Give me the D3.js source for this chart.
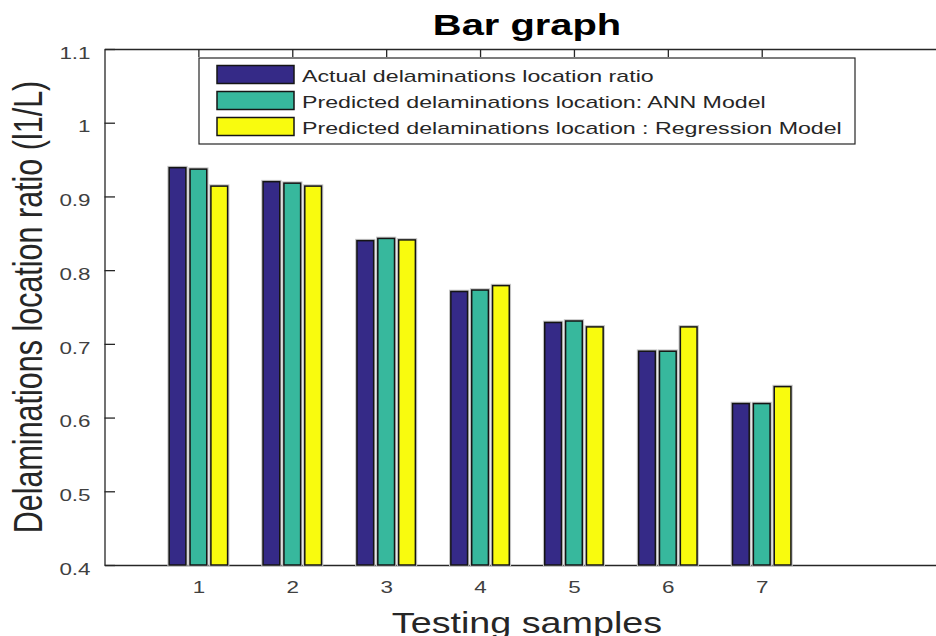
<!DOCTYPE html>
<html lang="en">
<head>
  <meta charset="UTF-8">
  <title>Bar graph</title>
  <script src="https://d3js.org/d3.v7.min.js"></script>
  <style>
    body, html {
      margin: 0;
      background: #fff;
    }
    svg text {
      font-family: "Liberation Sans", Arial, Helvetica, sans-serif;
    }
    .axis path, .axis line {
      stroke: #262626;
      stroke-width: 1.3;
    }
    .axis text {
      fill: #404040;
      font-size: 16px;
    }
  </style>
</head>
<body>
<svg id="chart" width="936" height="636"></svg>

<script>
  // values
  const samples = [1, 2, 3, 4, 5, 6, 7];
  const actualRatio = [0.939, 0.920, 0.840, 0.771, 0.729, 0.690, 0.619];
  const annRatio = [0.937, 0.918, 0.843, 0.773, 0.731, 0.690, 0.619];
  const regressionRatio = [0.914, 0.914, 0.841, 0.779, 0.723, 0.723, 0.642];
  const seriesNames = [
    "Actual delaminations location ratio",
    "Predicted delaminations location: ANN Model",
    "Predicted delaminations location : Regression Model"
  ];
  const seriesColors = ["#352a87", "#37b89d", "#f9fb0e"];
  const yTicks = [0.4, 0.5, 0.6, 0.7, 0.8, 0.9, 1, 1.1];

  const svg = d3.select("#chart");

  // plot box (the original figure is stretched sideways, hence sx factors on text)
  const plotLeft = 104.5, plotTop = 49, plotBottom = 565, plotRight = 949.5;

  const x = d3.scaleLinear().domain([0, 9]).range([plotLeft, plotRight]);
  const y = d3.scaleLinear().domain([0.4, 1.1]).range([plotBottom, plotTop]);

  const unit = x(1) - x(0);
  const groupW = 2 / 3 * unit;
  const inner = d3.scaleBand()
          .domain(d3.range(seriesNames.length))
          .range([-groupW / 2, groupW / 2])
          .paddingInner(0.2)
          .paddingOuter(0.1);

  const fmt = d => d === 1 ? "1" : d3.format(".1f")(d);

  // axes first, bars get drawn over them like in matlab
  const gx = svg.append("g").attr("class", "axis")
          .attr("transform", `translate(0,${plotBottom})`)
          .call(d3.axisBottom(x).tickValues(samples).tickSizeInner(-8).tickSizeOuter(0).tickPadding(0));
  gx.selectAll("text")
          .attr("y", 28.3).attr("dy", null)
          .attr("transform", "scale(1.4,1)")
          .attr("x", 0);

  svg.append("g").attr("class", "axis")
          .attr("transform", `translate(0,${plotTop})`)
          .call(d3.axisTop(x).tickValues(samples).tickSizeInner(-8).tickSizeOuter(0).tickFormat(""));

  const gy = svg.append("g").attr("class", "axis")
          .attr("transform", `translate(${plotLeft},0)`)
          .call(d3.axisLeft(y).tickValues(yTicks).tickSizeInner(-10.5).tickSizeOuter(0).tickFormat(fmt));
  gy.selectAll("text")
          .attr("x", -14 / 1.4)
          .attr("y", 9.2).attr("dy", null)
          .attr("transform", "scale(1.4,1)");

  // bars
  const series = [actualRatio, annRatio, regressionRatio];
  series.forEach((vals, si) => {
    const g = svg.append("g").attr("class", "series-" + si);
    const bars = g.selectAll("g").data(samples).join("g");
    bars.append("rect")
            .attr("x", (d, i) => x(d) + inner(si))
            .attr("y", (d, i) => y(vals[i]))
            .attr("width", inner.bandwidth())
            .attr("height", (d, i) => y(0.4) - y(vals[i]))
            .attr("fill", "none")
            .attr("stroke", "#c4c4c4")
            .attr("stroke-width", 3.6);
    bars.append("rect")
            .attr("x", (d, i) => x(d) + inner(si))
            .attr("y", (d, i) => y(vals[i]))
            .attr("width", inner.bandwidth())
            .attr("height", (d, i) => y(0.4) - y(vals[i]))
            .attr("fill", seriesColors[si])
            .attr("stroke", "#151515")
            .attr("stroke-width", 1.5);
  });

  // legend
  const lg = svg.append("g").attr("transform", "translate(199,58)");
  lg.append("rect")
          .attr("width", 656).attr("height", 86)
          .attr("fill", "#fff")
          .attr("stroke", "#262626")
          .attr("stroke-width", 1.2);
  const rowY = d3.scalePoint().domain(d3.range(3)).range([16.5, 68.5]);
  seriesNames.forEach((name, i) => {
    lg.append("rect")
            .attr("x", 18).attr("y", rowY(i) - 9)
            .attr("width", 77).attr("height", 18)
            .attr("fill", seriesColors[i])
            .attr("stroke", "#151515")
            .attr("stroke-width", 1.5);
    lg.append("text")
            .attr("transform", `translate(103,${rowY(i) + 7.5}) scale(1.45,1)`)
            .style("font-size", "16px")
            .attr("fill", "#262626")
            .text(name);
  });

  // title and axis labels
  svg.append("text")
          .attr("transform", `translate(${(plotLeft + plotRight) / 2},35) scale(1.33,1)`)
          .attr("text-anchor", "middle")
          .style("font-size", "30px")
          .style("font-weight", "bold")
          .attr("fill", "#000")
          .text("Bar graph");

  svg.append("text")
          .attr("transform", `translate(${(plotLeft + plotRight) / 2},633) scale(1.3,1)`)
          .attr("text-anchor", "middle")
          .style("font-size", "29px")
          .attr("fill", "#262626")
          .text("Testing samples");

  svg.append("text")
          .attr("transform", `translate(42,${(plotTop + plotBottom) / 2}) scale(1.31,1) rotate(-90)`)
          .attr("text-anchor", "middle")
          .style("font-size", "30.5px")
          .attr("fill", "#262626")
          .text("Delaminations location ratio (l1/L)");
</script>
</body>
</html>
